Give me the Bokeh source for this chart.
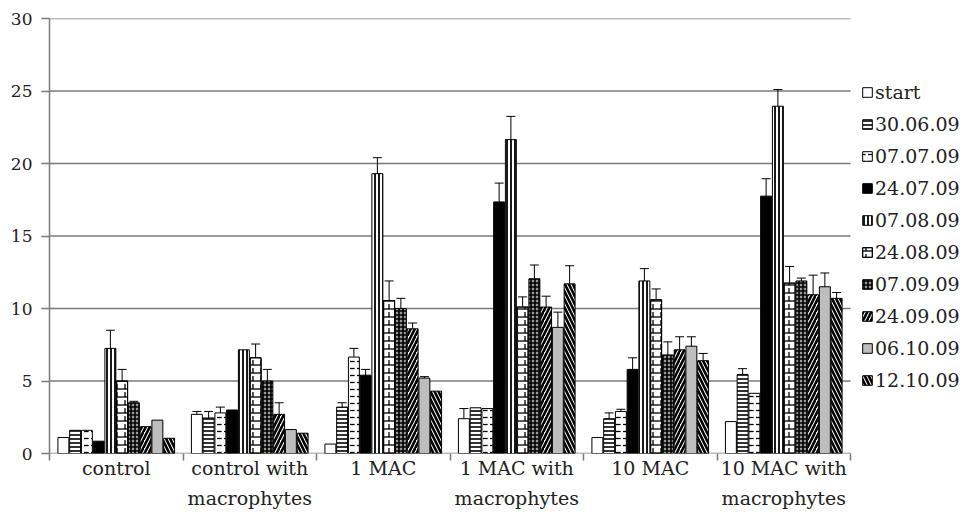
from bokeh.plotting import figure
from bokeh.models import (ColumnDataSource, FixedTicker, Legend, LegendItem, Whisker, TeeHead, Range1d)
from bokeh.embed import file_html
from bokeh.resources import INLINE

groups = ["control", "control with\nmacrophytes", "1 MAC", "1 MAC with\nmacrophytes",
          "10 MAC", "10 MAC with\nmacrophytes"]
dates = ["start", "30.06.09", "07.07.09", "24.07.09", "07.08.09", "24.08.09",
         "07.09.09", "24.09.09", "06.10.09", "12.10.09"]
y_ticks = [0, 5, 10, 15, 20, 25, 30]

v_start = [1.1, 2.7, 0.65, 2.4, 1.1, 2.2]
v_3006 = [1.6, 2.45, 3.2, 3.15, 2.4, 5.45]
v_0707 = [1.6, 2.8, 6.65, 3.1, 2.9, 4.15]
v_2407 = [0.85, 3.0, 5.4, 17.35, 5.8, 17.75]
v_0708 = [7.25, 7.15, 19.3, 21.65, 11.9, 23.95]
v_2408 = [5.0, 6.6, 10.55, 10.1, 10.6, 11.75]
v_0709 = [3.5, 5.0, 10.0, 12.05, 6.8, 11.9]
v_2409 = [1.85, 2.7, 8.6, 10.1, 7.15, 10.95]
v_0610 = [2.3, 1.65, 5.2, 8.7, 7.4, 11.5]
v_1210 = [1.05, 1.4, 4.3, 11.7, 6.4, 10.7]

e_start = [0, 0.2, 0, 0.7, 0, 0]
e_3006 = [0, 0.45, 0.3, 0, 0.4, 0.4]
e_0707 = [0, 0.4, 0.6, 0, 0.15, 0]
e_2407 = [0, 0, 0.4, 1.3, 0.8, 1.2]
e_0708 = [1.25, 0, 1.1, 1.6, 0.85, 1.15]
e_2408 = [0.8, 0.95, 1.35, 0.7, 0.75, 1.15]
e_0709 = [0.1, 0.8, 0.7, 0.95, 0.9, 0.2]
e_2409 = [0, 0.8, 0.4, 0.75, 0.9, 1.35]
e_0610 = [0, 0, 0.1, 1.05, 0.65, 0.95]
e_1210 = [0, 0, 0, 1.25, 0.5, 0.4]

values = [v_start, v_3006, v_0707, v_2407, v_0708, v_2408, v_0709, v_2409, v_0610, v_1210]
errors = [e_start, e_3006, e_0707, e_2407, e_0708, e_2408, e_0709, e_2409, e_0610, e_1210]

styles = [
    [dict(fill_color="white")],
    [dict(fill_color="white", hatch_pattern="horizontal_line", hatch_scale=4, hatch_weight=1.6, hatch_color="black")],
    [dict(fill_color="white", hatch_pattern="horizontal_dash", hatch_scale=7, hatch_weight=1.3, hatch_color="black")],
    [dict(fill_color="black")],
    [dict(fill_color="white", hatch_pattern="vertical_line", hatch_scale=4, hatch_weight=1.8, hatch_color="black")],
    [dict(fill_color="white", hatch_pattern="horizontal_line", hatch_scale=8, hatch_weight=1.3, hatch_color="black"),
     dict(fill_alpha=0, hatch_pattern="vertical_dash", hatch_scale=8, hatch_weight=1.3, hatch_color="black")],
    [dict(fill_color="#9a9a9a", hatch_pattern="cross", hatch_scale=4, hatch_weight=1.6, hatch_color="black")],
    [dict(fill_color="white", hatch_pattern="right_diagonal_line", hatch_scale=8, hatch_weight=2.6, hatch_color="black")],
    [dict(fill_color="#bdbdbd")],
    [dict(fill_color="white", hatch_pattern="left_diagonal_line", hatch_scale=8, hatch_weight=2.6, hatch_color="black")],
]

FONT = "DejaVu Serif"
GRID = "#7a7a7a"

n = len(groups)
chart_px = 801      # width of the bar area
frame_px = 918      # bar area + legend area
p = figure(frame_width=frame_px, frame_height=435, output_backend="svg", toolbar_location=None,
           x_range=Range1d(0, n * frame_px / chart_px), y_range=Range1d(0, 30),
           min_border_left=49, min_border_top=18, min_border_right=0, min_border_bottom=0)
p.outline_line_color = None
p.background_fill_color = "white"
p.border_fill_color = "white"

# horizontal gridlines restricted to the bar area
p.segment(x0=[0] * len(y_ticks), x1=[n] * len(y_ticks), y0=y_ticks, y1=y_ticks,
          line_color=GRID, line_width=1.5, level="underlay")

step = 0.088
width = 0.082
items = []
for j, (lab, vals, errs, st) in enumerate(zip(dates, values, errors, styles)):
    xs = [i + 0.5 + (j - 4.5) * step for i in range(n)]
    src = ColumnDataSource(dict(x=xs, top=vals))
    rs = []
    for s in st:
        rs.append(p.vbar(x="x", top="top", bottom=0, width=width, source=src,
                         line_color="black", line_width=1, **s))
    items.append(LegendItem(label=lab, renderers=rs))
    ex = [x for x, e in zip(xs, errs) if e > 0]
    eu = [v + e for v, e in zip(vals, errs) if e > 0]
    el = [v - e for v, e in zip(vals, errs) if e > 0]
    if ex:
        esrc = ColumnDataSource(dict(x=ex, up=eu, lo=el))
        w = Whisker(base="x", upper="up", lower="lo", source=esrc, line_color="black", line_width=1,
                    upper_head=TeeHead(size=9, line_color="black", line_width=1),
                    lower_head=TeeHead(size=9, line_color="black", line_width=1))
        p.add_layout(w)

# axes
p.yaxis.ticker = FixedTicker(ticks=y_ticks)
p.yaxis.major_tick_out = 8
p.yaxis.major_tick_in = 0
p.yaxis.minor_tick_line_color = None
p.yaxis.axis_line_color = GRID
p.yaxis.axis_line_width = 1.5
p.yaxis.major_tick_line_color = GRID
p.yaxis.major_tick_line_width = 1.5
p.yaxis.major_label_text_font = FONT
p.yaxis.major_label_text_font_size = "17px"
p.yaxis.major_label_text_color = "#222222"
p.yaxis.major_label_standoff = 9

centers = [i + 0.5 for i in range(n)]
p.xaxis.ticker = FixedTicker(ticks=centers, minor_ticks=list(range(n + 1)))
p.xaxis.major_label_overrides = {c: g for c, g in zip(centers, groups)}
p.xaxis.major_tick_line_color = None
p.xaxis.minor_tick_out = 7
p.xaxis.minor_tick_in = 0
p.xaxis.minor_tick_line_color = GRID
p.xaxis.minor_tick_line_width = 1.5
p.xaxis.axis_line_color = None
p.xaxis.major_label_text_font = FONT
p.xaxis.major_label_text_font_size = "19px"
p.xaxis.major_label_text_color = "#222222"
p.xaxis.major_label_standoff = -4
p.xaxis.major_label_text_line_height = 1.4

p.xgrid.grid_line_color = None
p.ygrid.grid_line_color = None

legend = Legend(items=items, location=(812, 62), label_text_font=FONT,
                label_text_font_size="19px", label_text_color="#222222",
                glyph_width=12, glyph_height=12, label_height=20, spacing=10,
                padding=0, margin=0, border_line_color=None, label_standoff=2,
                background_fill_alpha=0)
p.add_layout(legend)

open("out.html", "w").write(file_html(p, INLINE))
